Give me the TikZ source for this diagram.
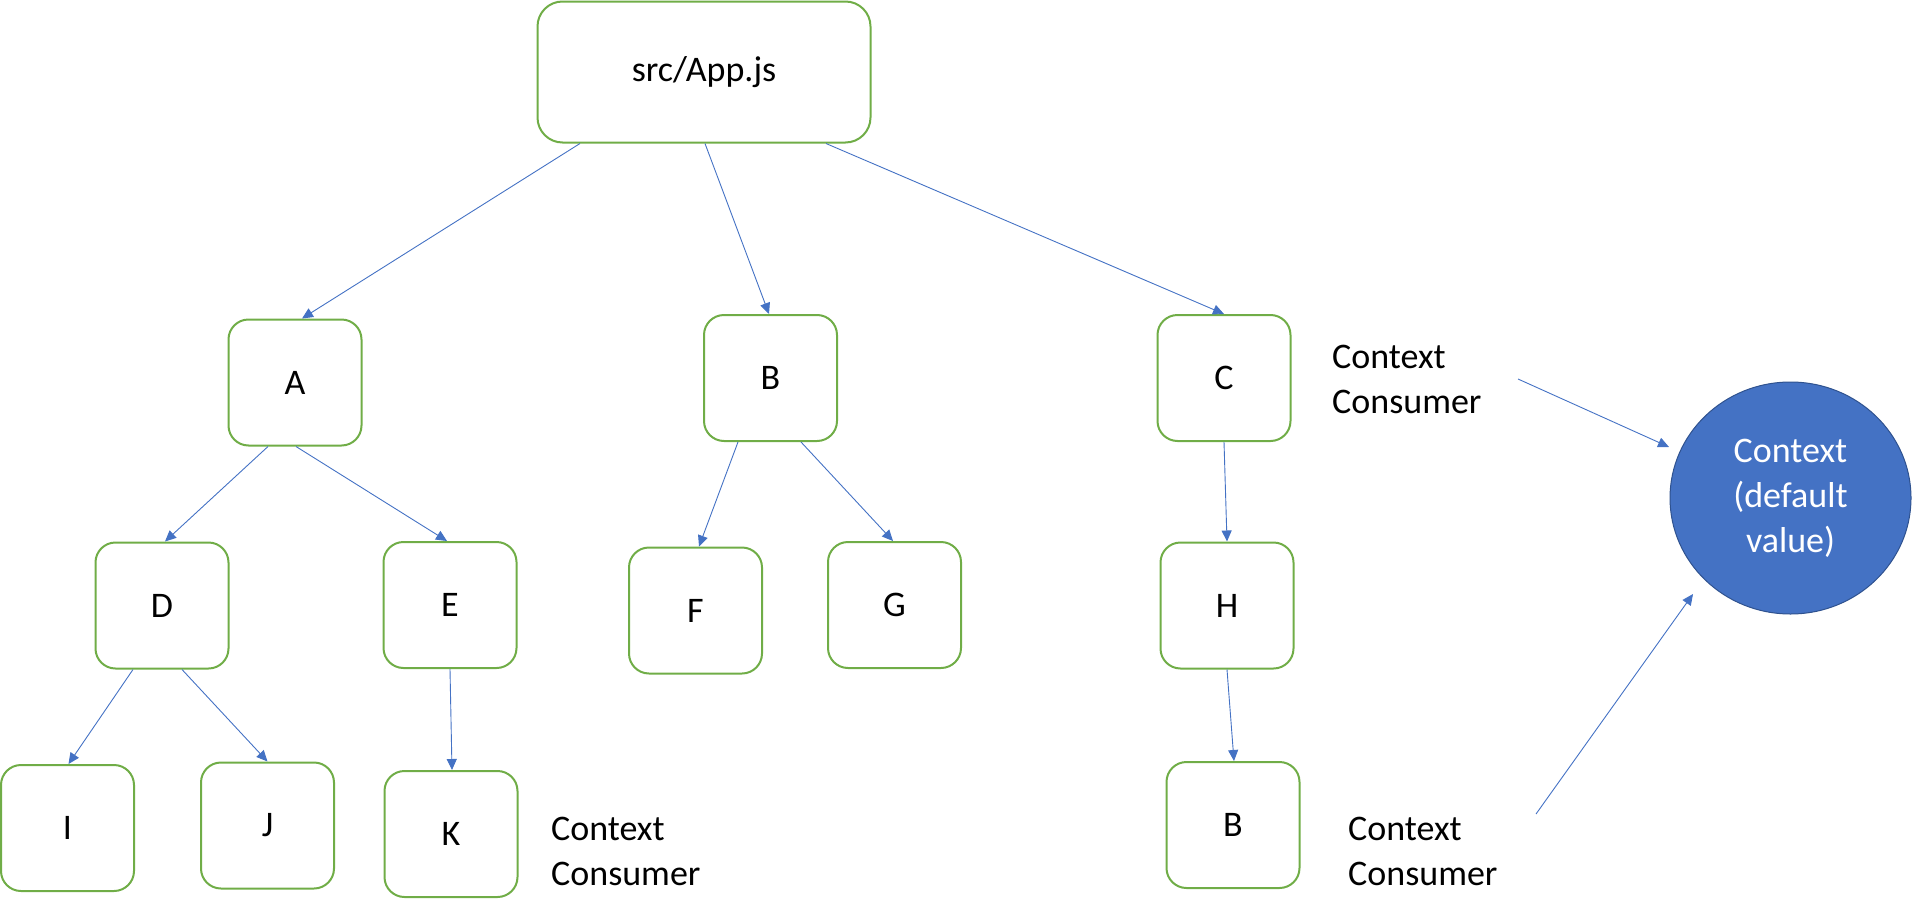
\documentclass[tikz,border=0pt]{standalone}
\usepackage{fontspec}
\setmainfont{Carlito}
\usetikzlibrary{arrows.meta,shapes.geometric}
\definecolor{boxgreen}{HTML}{70AD47}
\definecolor{lineblue}{HTML}{4472C4}
\definecolor{circedge}{HTML}{2F528F}
\begin{document}
\begin{tikzpicture}[x=1pt,y=-1pt,
  box/.style={draw=boxgreen, line width=2pt, rounded corners=20pt, minimum width=133pt, minimum height=126pt, inner sep=0pt, font=\fontsize{36}{45}\selectfont},
  conn/.style={draw=lineblue, line width=0.9pt, -{Triangle[length=11pt,width=10pt]}},
  lbl/.style={anchor=north west, inner sep=0pt, align=left, font=\fontsize{36}{45}\selectfont}]
\useasboundingbox (0,0) rectangle (1912,918);
% nodes
\node[box, minimum width=333pt, minimum height=141pt, rounded corners=25pt] (app) at (704,72) {src/App.js};
\node[box] (A) at (295,382.5) {A};
\node[box] (B) at (770.5,378) {B};
\node[box] (C) at (1224,378) {C};
\node[box] (D) at (162,605.5) {D};
\node[box] (E) at (450,605) {E};
\node[box] (F) at (695.5,610.5) {F};
\node[box] (G) at (894.5,605) {G};
\node[box] (H) at (1227,605.5) {H};
\node[box] (I) at (67.5,828) {I};
\node[box] (J) at (267.5,825.5) {J};
\node[box] (K) at (451,834) {K};
\node[box] (B2) at (1233,825) {B};
\node[ellipse, draw=circedge, line width=1pt, fill=lineblue, text=white, align=center, inner sep=0pt, minimum width=241pt, minimum height=232pt, font=\fontsize{36}{45}\selectfont] (ctx) at (1790.5,498) {Context\\(default\\value)};
% labels
\node[lbl] (cons1) at (1332,345) {Context\\Consumer};
\node[lbl] (cons2) at (551,817) {Context\\Consumer};
\node[lbl] (cons3) at (1348,817) {Context\\Consumer};
\coordinate (s1) at (1518,379);
\coordinate (t1) at (1669,447);
\coordinate (s2) at (1536,814);
\coordinate (t2) at (1693,594);
% connectors
\draw[conn] ([xshift=-124pt]app.south) -- ([xshift=7pt]A.north);
\draw[conn] ([xshift=1pt]app.south) -- ([xshift=-1.5pt]B.north);
\draw[conn] ([xshift=122pt]app.south) -- (C.north);
\draw[conn] ([xshift=-27pt]A.south) -- ([xshift=3pt]D.north);
\draw[conn] ([xshift=1pt]A.south) -- ([xshift=-3pt]E.north);
\draw[conn] ([xshift=-32.5pt]B.south) -- ([xshift=3.5pt]F.north);
\draw[conn] ([xshift=30.5pt]B.south) -- ([xshift=-1.5pt]G.north);
\draw[conn] (C.south) -- (H.north);
\draw[conn] ([xshift=-29pt]D.south) -- ([xshift=1pt]I.north);
\draw[conn] ([xshift=20pt]D.south) -- (J.north);
\draw[conn] (E.south) -- ([xshift=1pt]K.north);
\draw[conn] (H.south) -- ([xshift=1pt]B2.north);
\draw[conn] (s1) -- (t1);
\draw[conn] (s2) -- (t2);
\end{tikzpicture}
\end{document}
